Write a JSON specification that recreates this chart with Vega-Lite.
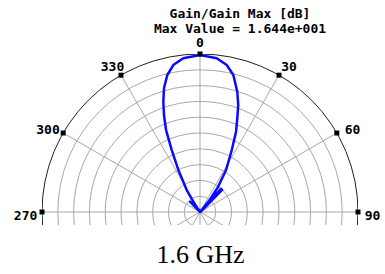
{
  "$schema": "https://vega.github.io/schema/vega-lite/v6.json",
  "width": 316,
  "height": 171,
  "autosize": {"type": "none"},
  "padding": {"left": 42, "top": 54, "right": 27, "bottom": 49},
  "background": "white",
  "config": {
    "view": {"stroke": null},
    "axisY": {"disable": true},
    "axisX": {"labels": false, "ticks": false, "domain": false, "grid": false, "titleFont": "Liberation Serif", "titleFontSize": 26, "titleFontWeight": "normal", "titleColor": "black", "titlePadding": 16}
  },
  "title": {
    "text": ["Gain/Gain Max [dB]", "Max Value = 1.644e+001"],
    "font": "DejaVu Sans Mono",
    "fontWeight": "bold",
    "fontSize": 13,
    "lineHeight": 15,
    "anchor": "middle",
    "dx": 40,
    "offset": 1,
    "color": "black"
  },
  "datasets": {
    "rings": [{"r": 1, "cx": 0, "cy": 0}, {"r": 2, "cx": 0, "cy": 0}, {"r": 3, "cx": 0, "cy": 0}, {"r": 4, "cx": 0, "cy": 0}, {"r": 5, "cx": 0, "cy": 0}, {"r": 6, "cx": 0, "cy": 0}, {"r": 7, "cx": 0, "cy": 0}, {"r": 8, "cx": 0, "cy": 0}, {"r": 9, "cx": 0, "cy": 0}],
    "outer": [{"r": 10, "cx": 0, "cy": 0}],
    "spokes": [
      {"angle": 0, "cx": 0, "cy": 0, "ex": 0, "ey": 10},
      {"angle": 30, "cx": 0, "cy": 0, "ex": 5, "ey": 8.66},
      {"angle": 60, "cx": 0, "cy": 0, "ex": 8.66, "ey": 5},
      {"angle": 90, "cx": 0, "cy": 0, "ex": 10, "ey": 0},
      {"angle": 120, "cx": 0, "cy": 0, "ex": 8.66, "ey": -5},
      {"angle": 150, "cx": 0, "cy": 0, "ex": 5, "ey": -8.66},
      {"angle": 180, "cx": 0, "cy": 0, "ex": 0, "ey": -10},
      {"angle": 210, "cx": 0, "cy": 0, "ex": -5, "ey": -8.66},
      {"angle": 240, "cx": 0, "cy": 0, "ex": -8.66, "ey": -5},
      {"angle": 270, "cx": 0, "cy": 0, "ex": -10, "ey": 0},
      {"angle": 300, "cx": 0, "cy": 0, "ex": -8.66, "ey": 5},
      {"angle": 330, "cx": 0, "cy": 0, "ex": -5, "ey": 8.66}
    ],
    "ticks": [
      {"label": "0", "mx": 0, "my": 10, "lx": 0, "ly": 10.7},
      {"label": "30", "mx": 5, "my": 8.66, "lx": 5.63, "ly": 9.18},
      {"label": "60", "mx": 8.66, "my": 5, "lx": 9.65, "ly": 5.19},
      {"label": "90", "mx": 10, "my": 0, "lx": 10.92, "ly": -0.25},
      {"label": "270", "mx": -10, "my": 0, "lx": -11.04, "ly": -0.25},
      {"label": "300", "mx": -8.66, "my": 5, "lx": -9.62, "ly": 5.19},
      {"label": "330", "mx": -5, "my": 8.66, "lx": -5.54, "ly": 9.18}
    ],
    "pattern": [
      {"i": 1, "x": 0, "y": 9.94},
      {"i": 2, "x": 1.06, "y": 9.73},
      {"i": 3, "x": 1.69, "y": 9.3},
      {"i": 4, "x": 2.11, "y": 8.67},
      {"i": 5, "x": 2.36, "y": 7.61},
      {"i": 6, "x": 2.42, "y": 6.77},
      {"i": 7, "x": 2.36, "y": 5.93},
      {"i": 8, "x": 2.28, "y": 5.08},
      {"i": 9, "x": 2.01, "y": 3.92},
      {"i": 10, "x": 1.65, "y": 2.66},
      {"i": 11, "x": 1.12, "y": 1.55},
      {"i": 12, "x": 0.6, "y": 0.74},
      {"i": 13, "x": 0, "y": 0},
      {"i": 14, "x": 1.33, "y": 1.47},
      {"i": 15, "x": 1.4, "y": 1.4},
      {"i": 16, "x": 0.05, "y": 0.02},
      {"i": 17, "x": -0.63, "y": 0.65},
      {"i": 18, "x": -0.05, "y": 0.05},
      {"i": 19, "x": -0.42, "y": 0.65},
      {"i": 20, "x": -0.84, "y": 1.39},
      {"i": 21, "x": -1.37, "y": 2.66},
      {"i": 22, "x": -1.79, "y": 3.92},
      {"i": 23, "x": -2.15, "y": 5.19},
      {"i": 24, "x": -2.28, "y": 6.14},
      {"i": 25, "x": -2.32, "y": 6.98},
      {"i": 26, "x": -2.28, "y": 7.83},
      {"i": 27, "x": -2.07, "y": 8.67},
      {"i": 28, "x": -1.69, "y": 9.3},
      {"i": 29, "x": -1.06, "y": 9.73},
      {"i": 30, "x": 0, "y": 9.94}
    ]
  },
  "layer": [
    {
      "data": {"name": "rings"},
      "mark": {"type": "arc", "filled": false, "fill": null, "stroke": "#a8a8a8", "strokeWidth": 1, "theta": 0, "theta2": 6.2832, "clip": true},
      "encoding": {
        "x": {"field": "cx", "type": "quantitative", "title": "1.6 GHz", "scale": {"domain": [-10, 10], "nice": false, "zero": false}},
        "y": {"field": "cy", "type": "quantitative", "scale": {"domain": [-0.823, 10], "nice": false, "zero": false}},
        "radius": {"field": "r", "type": "quantitative", "stack": null, "scale": {"type": "linear", "domain": [0, 10], "range": [0, 158], "zero": true, "nice": false}}
      }
    },
    {
      "data": {"name": "spokes"},
      "mark": {"type": "rule", "stroke": "#a8a8a8", "strokeWidth": 1, "clip": true},
      "encoding": {
        "x": {"field": "cx", "type": "quantitative", "title": "1.6 GHz"},
        "y": {"field": "cy", "type": "quantitative"},
        "x2": {"field": "ex"},
        "y2": {"field": "ey"}
      }
    },
    {
      "data": {"name": "outer"},
      "mark": {"type": "arc", "filled": false, "fill": null, "stroke": "#202020", "strokeWidth": 1, "theta": 0, "theta2": 6.2832, "clip": true},
      "encoding": {
        "x": {"field": "cx", "type": "quantitative", "title": "1.6 GHz"},
        "y": {"field": "cy", "type": "quantitative"},
        "radius": {"field": "r", "type": "quantitative", "stack": null, "scale": {"type": "linear", "domain": [0, 10], "range": [0, 158], "zero": true, "nice": false}}
      }
    },
    {
      "data": {"name": "pattern"},
      "mark": {"type": "line", "color": "#0a0aff", "strokeWidth": 2.5, "strokeJoin": "round", "strokeCap": "round"},
      "encoding": {
        "x": {"field": "x", "type": "quantitative", "title": "1.6 GHz"},
        "y": {"field": "y", "type": "quantitative"},
        "order": {"field": "i", "type": "quantitative"}
      }
    },
    {
      "data": {"name": "ticks"},
      "mark": {"type": "point", "shape": "square", "filled": true, "color": "black", "size": 25, "opacity": 1},
      "encoding": {
        "x": {"field": "mx", "type": "quantitative", "title": "1.6 GHz"},
        "y": {"field": "my", "type": "quantitative"}
      }
    },
    {
      "data": {"name": "ticks"},
      "mark": {"type": "text", "font": "DejaVu Sans Mono", "fontWeight": "bold", "fontSize": 13, "align": "center", "baseline": "middle", "color": "black"},
      "encoding": {
        "x": {"field": "lx", "type": "quantitative", "title": "1.6 GHz"},
        "y": {"field": "ly", "type": "quantitative"},
        "text": {"field": "label"}
      }
    }
  ]
}
